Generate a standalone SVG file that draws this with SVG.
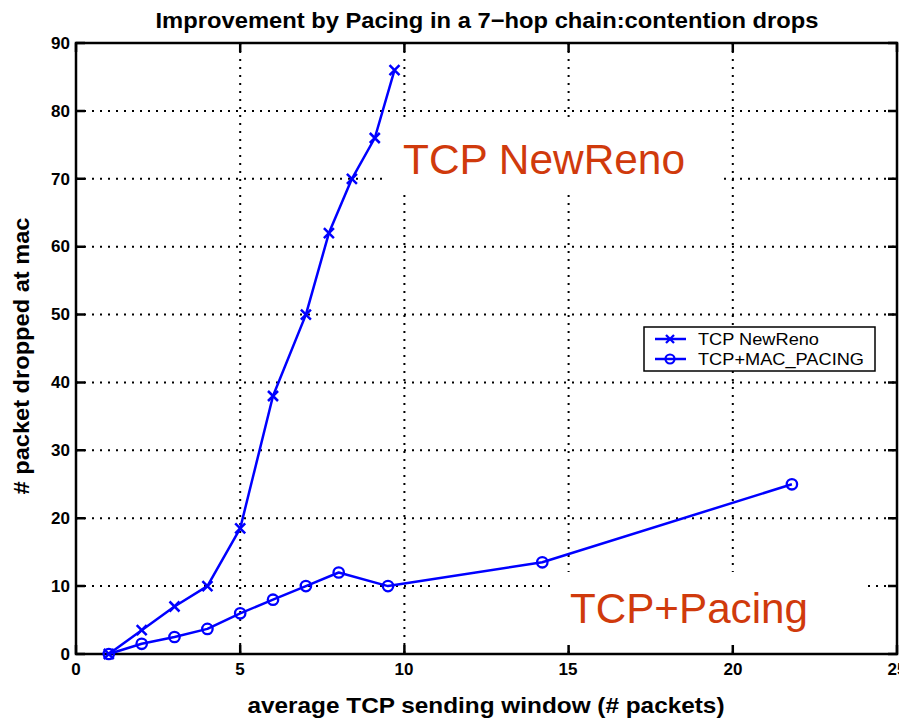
<svg xmlns="http://www.w3.org/2000/svg" width="899" height="718" viewBox="0 0 899 718">
<style>
.grid{stroke:#000;stroke-width:2;stroke-dasharray:2 6;fill:none}
.axis{stroke:#000;stroke-width:2.5;fill:none}
.tick{stroke:#000;stroke-width:2.5}
.tl{font-family:"Liberation Sans",Arial,sans-serif;font-weight:bold;font-size:17px;fill:#000}
.lab{font-family:"Liberation Sans",Arial,sans-serif;font-weight:bold;font-size:22px;fill:#000}
.series{stroke:#0000ff;stroke-width:2.5;fill:none;stroke-linejoin:round}
.ann{font-family:"Liberation Sans",Arial,sans-serif;font-size:42px;fill:#d03a0c}
.leg{font-family:"Liberation Sans",Arial,sans-serif;font-size:17px;fill:#000}
</style>
<defs>
<marker id="mx" markerUnits="userSpaceOnUse" markerWidth="14" markerHeight="14" refX="7" refY="7" overflow="visible">
<path d="M2,2 L12,12 M12,2 L2,12" stroke="#0000ff" stroke-width="2.5" fill="none"/>
</marker>
<marker id="mo" markerUnits="userSpaceOnUse" markerWidth="14" markerHeight="14" refX="7" refY="7" overflow="visible">
<circle cx="7" cy="7" r="5.2" stroke="#0000ff" stroke-width="2.3" fill="none"/>
</marker>
</defs>
<rect x="0" y="0" width="899" height="718" fill="#fff"/>
<text class="lab" x="487" y="28" text-anchor="middle" textLength="663" lengthAdjust="spacingAndGlyphs">Improvement by Pacing in a 7−hop chain:contention drops</text>
<g id="grid">
<path class="grid" d="M76,586.1H897 M76,518.2H897 M76,450.3H897 M76,382.4H897 M76,314.6H897 M76,246.7H897 M76,178.8H897 M76,110.9H897"/>
<path class="grid" d="M240.2,43V654 M404.4,43V654 M568.6,43V654 M732.8,43V654"/>
</g>
<g id="label-backgrounds" fill="#fff">
<rect x="384" y="117" width="334" height="74"/>
<rect x="551" y="572" width="317" height="74"/>
</g>
<g id="axes">
<rect class="axis" x="76" y="43" width="821" height="611"/>
<path class="tick" d="M76,654v-9 M240.2,654v-9 M404.4,654v-9 M568.6,654v-9 M732.8,654v-9 M897,654v-9 M76,43v9 M240.2,43v9 M404.4,43v9 M568.6,43v9 M732.8,43v9 M897,43v9"/>
<path class="tick" d="M76,654h9 M76,586.1h9 M76,518.2h9 M76,450.3h9 M76,382.4h9 M76,314.6h9 M76,246.7h9 M76,178.8h9 M76,110.9h9 M76,43h9 M897,654h-9 M897,586.1h-9 M897,518.2h-9 M897,450.3h-9 M897,382.4h-9 M897,314.6h-9 M897,246.7h-9 M897,178.8h-9 M897,110.9h-9 M897,43h-9"/>
</g>
<g id="y-tick-labels" class="tl" text-anchor="end">
<text x="70" y="660">0</text>
<text x="70" y="592">10</text>
<text x="70" y="524">20</text>
<text x="70" y="456">30</text>
<text x="70" y="388">40</text>
<text x="70" y="320">50</text>
<text x="70" y="252">60</text>
<text x="70" y="185">70</text>
<text x="70" y="117">80</text>
<text x="70" y="49">90</text>
</g>
<g id="x-tick-labels" class="tl" text-anchor="middle">
<text x="76" y="675">0</text>
<text x="240" y="675">5</text>
<text x="404" y="675">10</text>
<text x="568" y="675">15</text>
<text x="733" y="675">20</text>
<text x="897" y="675">25</text>
</g>
<text class="lab" x="486" y="713" text-anchor="middle" textLength="477" lengthAdjust="spacingAndGlyphs">average TCP sending window (# packets)</text>
<text class="lab" transform="translate(29,356) rotate(-90)" text-anchor="middle" textLength="277" lengthAdjust="spacingAndGlyphs"># packet dropped at mac</text>
<g id="connectors">
<polyline id="newreno" class="series" marker-start="url(#mx)" marker-mid="url(#mx)" marker-end="url(#mx)" points="108.8,654 141.7,630.2 174.5,606.5 207.4,586.1 240.2,528.4 273,396 305.9,314.6 328.9,233.1 351.9,178.8 374.8,138 394.5,70.1"/>
<polyline id="pacing" class="series" marker-start="url(#mo)" marker-mid="url(#mo)" marker-end="url(#mo)" points="108.8,654 141.7,643.8 174.5,637 207.4,628.9 240.2,613.3 273,599.7 305.9,586.1 338.7,572.5 388,586.1 542.3,562.3 791.9,484.3"/>
</g>
<g id="annotation-newreno">
<text class="ann" x="403" y="174" textLength="282" lengthAdjust="spacingAndGlyphs">TCP NewReno</text>
</g>
<g id="annotation-pacing">
<text class="ann" x="570" y="623" textLength="238" lengthAdjust="spacingAndGlyphs">TCP+Pacing</text>
</g>
<g id="legend">
<rect x="644" y="327" width="231" height="44" fill="#fff" stroke="#000" stroke-width="1.5"/>
<line x1="655" y1="339" x2="686" y2="339" stroke="#0000ff" stroke-width="2.5"/>
<path d="M666,335 L674,343 M674,335 L666,343" stroke="#0000ff" stroke-width="2.3"/>
<line x1="655" y1="359" x2="686" y2="359" stroke="#0000ff" stroke-width="2.5"/>
<circle cx="670" cy="359" r="4.5" stroke="#0000ff" stroke-width="2.2" fill="none"/>
<text class="leg" x="698" y="345" textLength="121" lengthAdjust="spacingAndGlyphs">TCP NewReno</text>
<text class="leg" x="698" y="365" textLength="166" lengthAdjust="spacingAndGlyphs">TCP+MAC_PACING</text>
</g>
</svg>
